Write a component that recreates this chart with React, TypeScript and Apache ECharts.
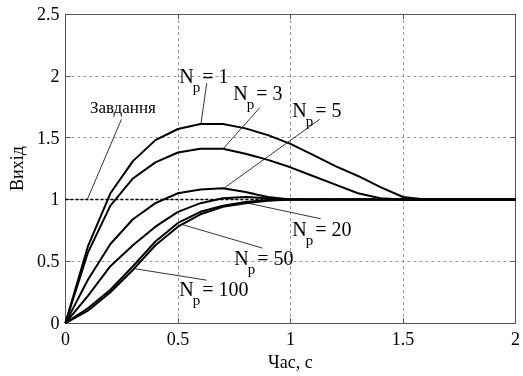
import React, { useEffect, useRef } from "react";
import * as echarts from "echarts";

const TIME = [0, 0.1, 0.2, 0.3, 0.4, 0.5, 0.6, 0.7, 0.8, 0.9, 1.0, 1.1, 1.2, 1.3, 1.4, 1.5, 1.6, 1.7, 1.8, 1.9, 2.0];
const NP1 = [0, 0.62, 1.05, 1.31, 1.48, 1.57, 1.61, 1.61, 1.575, 1.52, 1.45, 1.36, 1.27, 1.19, 1.1, 1.02, 1.0, 1, 1, 1, 1];
const NP3 = [0, 0.57, 0.95, 1.17, 1.3, 1.38, 1.41, 1.41, 1.37, 1.32, 1.26, 1.19, 1.12, 1.05, 1.01, 1.0, 1, 1, 1, 1, 1];
const NP5 = [0, 0.35, 0.64, 0.84, 0.97, 1.05, 1.08, 1.09, 1.06, 1.02, 1.0, 1, 1, 1, 1, 1, 1, 1, 1, 1, 1];
const NP20 = [0, 0.22, 0.46, 0.63, 0.78, 0.9, 0.97, 1.01, 1.02, 1.01, 1.0, 1, 1, 1, 1, 1, 1, 1, 1, 1, 1];
const NP50 = [0, 0.12, 0.27, 0.46, 0.66, 0.81, 0.9, 0.95, 0.98, 0.995, 1.0, 1, 1, 1, 1, 1, 1, 1, 1, 1, 1];
const NP100 = [0, 0.1, 0.25, 0.43, 0.63, 0.78, 0.88, 0.94, 0.97, 0.99, 1.0, 1, 1, 1, 1, 1, 1, 1, 1, 1, 1];
const SETPOINT = [1, 1, 1, 1, 1, 1, 1, 1, 1, 1, 1, 1, 1, 1, 1, 1, 1, 1, 1, 1, 1];

const X_TICKS = [0, 0.5, 1, 1.5, 2];
const Y_TICKS = [0, 0.5, 1, 1.5, 2, 2.5];

const X_NAME = "Час, с";
const Y_NAME = "Вихід";
const SETPOINT_LABEL = "Завдання";

// annotations in data coordinates: label anchor (left, middle of "N") and pointer line
const NP_LABELS = [
  { value: "1", at: [0.506, 2.0], from: [0.628, 1.94], to: [0.602, 1.609] },
  { value: "3", at: [0.746, 1.861], from: [0.864, 1.743], to: [0.702, 1.412] },
  { value: "5", at: [1.008, 1.723], from: [1.13, 1.648], to: [0.702, 1.088] },
  { value: "20", at: [1.008, 0.765], from: [1.134, 0.844], to: [0.811, 0.97] },
  { value: "50", at: [0.75, 0.528], from: [0.875, 0.607], to: [0.519, 0.797] },
  { value: "100", at: [0.506, 0.276], from: [0.628, 0.347], to: [0.301, 0.442] },
];
const SETPOINT_ANN = { at: [0.109, 1.743], from: [0.249, 1.648], to: [0.096, 0.994] };

const FONT = "Liberation Serif, Times New Roman, serif";

export default function App() {
  const ref = useRef<HTMLDivElement>(null);
  useEffect(() => {
    if (!ref.current) return;
    const chart = echarts.init(ref.current, undefined, { renderer: "svg" });
    const curve = (name: string, data: number[]) => ({
      name,
      type: "line",
      data: TIME.map((t, i) => [t, data[i]]),
      showSymbol: false,
      lineStyle: { color: "#000", width: 2 },
      z: 3,
    });
    const axisCommon = {
      axisLine: { show: true, onZero: false, lineStyle: { color: "#555", width: 1 } },
      axisTick: { show: true, inside: true, length: 5, lineStyle: { color: "#555" } },
    };
    chart.setOption({
      animation: false,
      textStyle: { fontFamily: FONT },
      grid: { left: 61, right: 3.5, top: 14, bottom: 45, containLabel: false },
      xAxis: [
        {
          type: "value",
          min: 0,
          max: 2,
          interval: 0.5,
          ...axisCommon,
          axisLabel: {
            color: "#000",
            fontFamily: FONT,
            fontSize: 18,
            margin: 7,
            showMaxLabel: true,
            formatter: (v: number) => (X_TICKS.includes(v) ? String(v) : ""),
          },
          splitLine: { show: true, lineStyle: { color: "#999", type: [3, 3], width: 1 } },
          name: X_NAME,
          nameLocation: "middle",
          nameGap: 29,
          nameTextStyle: { color: "#000", fontFamily: FONT, fontSize: 18 },
        },
        {
          type: "value",
          position: "top",
          min: 0,
          max: 2,
          interval: 0.5,
          ...axisCommon,
          axisLabel: { show: false },
          splitLine: { show: false },
        },
      ],
      yAxis: [
        {
          type: "value",
          min: 0,
          max: 2.5,
          interval: 0.5,
          ...axisCommon,
          axisLabel: {
            color: "#000",
            fontFamily: FONT,
            fontSize: 18,
            margin: 6,
            formatter: (v: number) => (Y_TICKS.includes(v) ? String(v) : ""),
          },
          splitLine: { show: true, lineStyle: { color: "#999", type: [3, 3], width: 1 } },
          name: Y_NAME,
          nameLocation: "middle",
          nameGap: 34,
          nameTextStyle: { color: "#000", fontFamily: FONT, fontSize: 18 },
        },
        {
          type: "value",
          position: "right",
          min: 0,
          max: 2.5,
          interval: 0.5,
          ...axisCommon,
          axisLabel: { show: false },
          splitLine: { show: false },
        },
      ],
      series: [
        {
          name: SETPOINT_LABEL,
          type: "line",
          data: TIME.map((t, i) => [t, SETPOINT[i]]),
          showSymbol: false,
          lineStyle: { color: "#000", width: 1.6, type: [3, 2] },
          z: 2,
        },
        curve("Np=1", NP1),
        curve("Np=3", NP3),
        curve("Np=5", NP5),
        curve("Np=20", NP20),
        curve("Np=50", NP50),
        curve("Np=100", NP100),
      ],
    });

    const px = (p: number[]) => chart.convertToPixel({ xAxisIndex: 0, yAxisIndex: 0 }, p) as number[];
    const elements: any[] = [];
    const pointer = (a: number[], b: number[]) => {
      const A = px(a);
      const B = px(b);
      elements.push({
        type: "line",
        shape: { x1: A[0], y1: A[1], x2: B[0], y2: B[1] },
        style: { stroke: "#000", lineWidth: 0.8 },
        z: 10,
      });
    };
    const txt = (x: number, y: number, text: string, size: number) => ({
      type: "text",
      x,
      y,
      style: { text, fill: "#000", font: `${size}px ${FONT}`, textAlign: "left", textVerticalAlign: "middle" },
      z: 10,
    });
    NP_LABELS.forEach((l) => {
      const P = px(l.at);
      elements.push(txt(P[0], P[1], "N", 20));
      elements.push(txt(P[0] + 13.5, P[1] + 11, "p", 15));
      elements.push(txt(P[0] + 23, P[1], "= " + l.value, 20));
      pointer(l.from, l.to);
    });
    const S = px(SETPOINT_ANN.at);
    elements.push(txt(S[0], S[1], SETPOINT_LABEL, 17));
    pointer(SETPOINT_ANN.from, SETPOINT_ANN.to);
    chart.setOption({ graphic: { elements } });

    return () => chart.dispose();
  }, []);
  return <div ref={ref} style={{ position: "fixed", left: 0, top: 0, width: 523, height: 376 }} />;
}
